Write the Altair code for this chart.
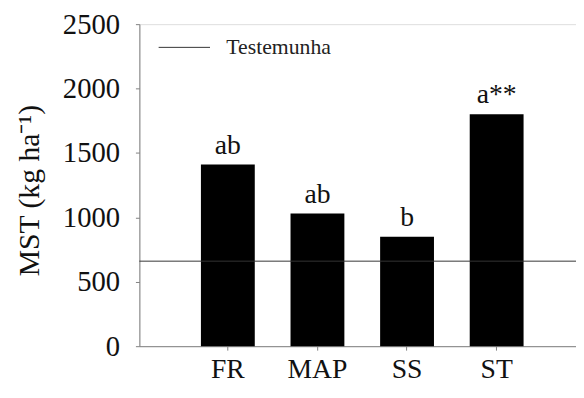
import altair as alt
import pandas as pd

categories = ["FR", "MAP", "SS", "ST"]
values = [1410, 1030, 850, 1800]
letters = ["ab", "ab", "b", "a**"]
control_label = ["Testemunha"]
control_value = [660]
y_ticks = [0, 500, 1000, 1500, 2000, 2500]

bars_df = pd.DataFrame({"trat": categories, "mst": values, "letra": letters})
ctrl_df = pd.DataFrame({"serie": control_label, "mst": control_value})

FONT = "Liberation Serif"

x_enc = alt.X(
    "trat:N",
    sort=categories,
    title=None,
    scale=alt.Scale(paddingInner=0.399, paddingOuter=0.636, align=0.54),
    axis=alt.Axis(
        labelAngle=0,
        labelFont=FONT,
        labelFontSize=28,
        labelColor="#111111",
        labelPadding=6,
        tickSize=4,
        tickColor="#808080",
        domainColor="#808080",
        domainWidth=1,
    ),
)

y_scale = alt.Scale(domain=[0, 2500], nice=False)

bars = alt.Chart(bars_df).mark_bar(color="black").encode(
    x=x_enc,
    y=alt.Y(
        "mst:Q",
        scale=y_scale,
        title="MST (kg ha⁻¹)",
        axis=alt.Axis(
            values=y_ticks,
            format="d",
            grid=False,
            labelFont=FONT,
            labelFontSize=29,
            labelColor="#111111",
            labelPadding=16,
            tickSize=4,
            tickColor="#808080",
            domainColor="#808080",
            titleFont=FONT,
            titleFontSize=30,
            titleFontWeight="normal",
            titleColor="#111111",
            titleAngle=270,
            titleBaseline="alphabetic",
            titleAlign="center",
            titleX=-102,
            titleY=168,
        ),
    ),
)

text = alt.Chart(bars_df).mark_text(
    font=FONT, fontSize=28, color="#111111", baseline="alphabetic", dy=-11
).encode(
    x=alt.X("trat:N", sort=categories),
    y=alt.Y("mst:Q", scale=y_scale),
    text="letra:N",
)

rule = alt.Chart(ctrl_df).mark_rule(strokeWidth=1).encode(
    y=alt.Y("mst:Q", scale=y_scale),
    color=alt.Color(
        "serie:N",
        scale=alt.Scale(domain=control_label, range=["#333333"]),
        legend=alt.Legend(
            title=None,
            orient="none",
            legendX=19,
            legendY=-3,
            symbolType="stroke",
            symbolSize=2704,
            symbolStrokeWidth=1,
            labelFont=FONT,
            labelFontSize=22,
            labelColor="#222222",
            labelOffset=16,
            padding=0,
        ),
    ),
)

chart = (
    alt.layer(bars, rule, text)
    .properties(
        width=442,
        height=326,
        autosize=alt.AutoSizeParams(type="none"),
        padding={"left": 133, "top": 14, "right": 0, "bottom": 42},
    )
    .configure_view(stroke=None)
    .configure(background="white")
)

chart.save("out.html", embed_options={"renderer": "svg", "actions": False})
